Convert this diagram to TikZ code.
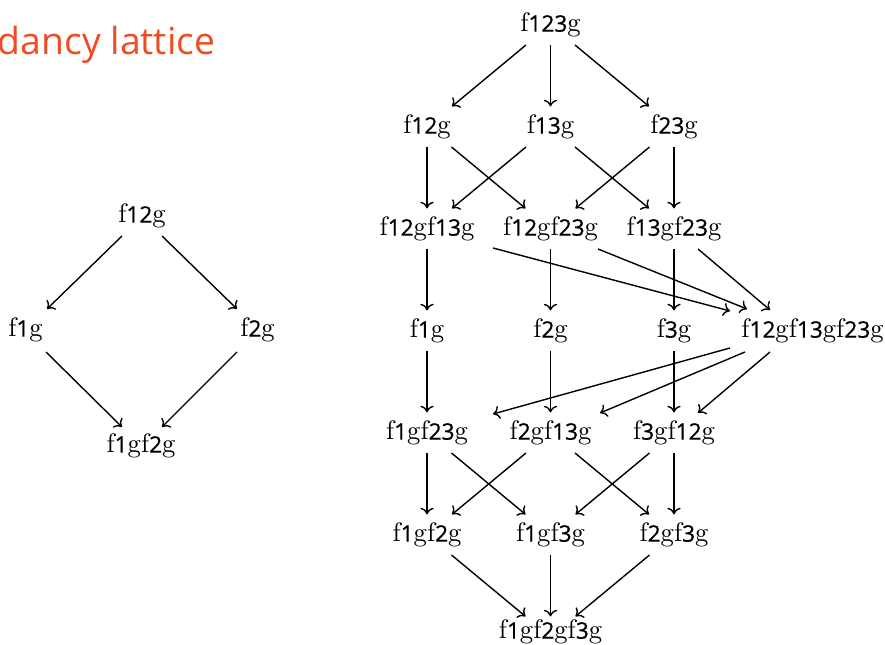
\documentclass[tikz,border=0pt]{standalone}
\usepackage{fontspec}
\newfontfamily\titlefont{Open Sans}
\newfontfamily\digitfont{Open Sans}[FakeBold=0.8]
\newfontfamily\bracefont{lmroman10-regular}[Extension=.otf]
\usetikzlibrary{arrows.meta,calc}
\definecolor{titleorange}{RGB}{240,75,35}
% a set of sources, printed as f..g around sans digits
\newcommand\grp[1]{{\bracefont f}{\fontsize{17}{20}\selectfont\digitfont #1}{\bracefont g}}
% arrow between two named nodes, each end shifted from the node centre
\newcommand\edgeat[4]{\draw[link] ($(#1)+(#2)$) -- ($(#3)+(#4)$);}
\tikzset{
  lbl/.style={inner sep=0pt, font=\fontsize{20}{24}\selectfont\bracefont},
  link/.style={-{To[length=5pt,width=10pt]}, line width=1.05pt},
}
\begin{document}
\begin{tikzpicture}[x=0.75pt,y=-0.75pt]
\useasboundingbox (0,0) rectangle (885,645);

\node[anchor=base west, inner sep=0pt, text=titleorange,
      font=\fontsize{28}{33}\selectfont\titlefont] (title) at (-2.5,55) {dancy lattice};

% two-source lattice
\node[lbl] (L1) at (142,216) {\grp{12}};
\node[lbl] (L2) at (25.5,330) {\grp{1}};
\node[lbl] (L3) at (257.5,330) {\grp{2}};
\node[lbl] (L4) at (141,446) {\grp{1}\grp{2}};

\edgeat{L1}{-20,20}{L2}{21.5,-21}
\edgeat{L1}{20,20}{L3}{-20.5,-21}
\edgeat{L2}{20.5,22}{L4}{-19,-19}
\edgeat{L3}{-20.5,22}{L4}{21,-19}

% three-source lattice
\node[lbl] (A)  at (550.5,25) {\grp{123}};

\node[lbl] (B1) at (427,127)   {\grp{12}};
\node[lbl] (B2) at (550.5,127) {\grp{13}};
\node[lbl] (B3) at (674,127)   {\grp{23}};

\node[lbl] (C1) at (427,229)   {\grp{12}\grp{13}};
\node[lbl] (C2) at (550.5,229) {\grp{12}\grp{23}};
\node[lbl] (C3) at (674,229)   {\grp{13}\grp{23}};

\node[lbl] (D1) at (427,331)   {\grp{1}};
\node[lbl] (D2) at (550.5,331) {\grp{2}};
\node[lbl] (D3) at (674,331)   {\grp{3}};
\node[lbl] (D4) at (812.5,331) {\grp{12}\grp{13}\grp{23}};

\node[lbl] (E1) at (427,433)   {\grp{1}\grp{23}};
\node[lbl] (E2) at (550.5,433) {\grp{2}\grp{13}};
\node[lbl] (E3) at (674,433)   {\grp{3}\grp{12}};

\node[lbl] (F1) at (427,535)   {\grp{1}\grp{2}};
\node[lbl] (F2) at (550.5,535) {\grp{1}\grp{3}};
\node[lbl] (F3) at (674,535)   {\grp{2}\grp{3}};

\node[lbl] (G)  at (550.5,632) {\grp{1}\grp{2}\grp{3}};

\edgeat{A}{-24.5,20}{B1}{25,-20.6}
\edgeat{A}{0,20}{B2}{0,-20.6}
\edgeat{A}{24.5,20}{B3}{-25,-20.6}

\edgeat{B1}{0,20}{C1}{0,-20.6}
\edgeat{B1}{24.5,20}{C2}{-25,-20.6}
\edgeat{B2}{-24.5,20}{C1}{25,-20.6}
\edgeat{B2}{24.5,20}{C3}{-25,-20.6}
\edgeat{B3}{-24.5,20}{C2}{25,-20.6}
\edgeat{B3}{0,20}{C3}{0,-20.6}

\edgeat{C1}{0,20}{D1}{0,-20.6}
\edgeat{C2}{0,20}{D2}{0,-20.6}
\edgeat{C3}{0,20}{D3}{0,-20.6}
\edgeat{C1}{66,19}{D4}{-82.5,-20}
\edgeat{C2}{47.5,20}{D4}{-65.5,-22}
\edgeat{C3}{24,20}{D4}{-42.5,-21}

\edgeat{D1}{0,20}{E1}{0,-20.6}
\edgeat{D2}{0,20}{E2}{0,-20.6}
\edgeat{D3}{0,20}{E3}{0,-20.6}
\edgeat{D4}{-82.5,17}{E1}{66,-19}
\edgeat{D4}{-67.5,21}{E2}{49.5,-20}
\edgeat{D4}{-42.5,21}{E3}{24,-20}

\edgeat{E1}{0,20}{F1}{0,-20.6}
\edgeat{E1}{24.5,20}{F2}{-25,-20.6}
\edgeat{E2}{-24.5,20}{F1}{25,-20.6}
\edgeat{E2}{24.5,20}{F3}{-25,-20.6}
\edgeat{E3}{-24.5,20}{F2}{25,-20.6}
\edgeat{E3}{0,20}{F3}{0,-20.6}

\edgeat{F1}{24.5,20}{G}{-25,-15.6}
\edgeat{F2}{0,20}{G}{0,-15.6}
\edgeat{F3}{-24.5,20}{G}{25,-15.6}
\end{tikzpicture}
\end{document}
